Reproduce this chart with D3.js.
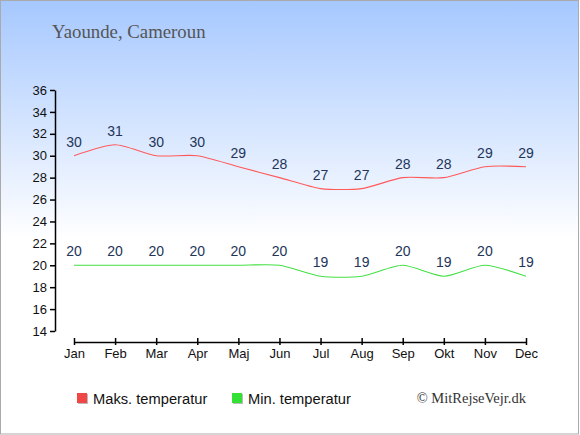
<!DOCTYPE html>
<html lang="en">
<head>
  <meta charset="utf-8">
  <title>Yaounde, Cameroun</title>
  <style>
    body { margin: 0; padding: 0; background: #fff; }
    svg text { font-family: "Liberation Sans", Arial, sans-serif; }
  </style>
</head>
<body>
<div id="chart"></div>
<script src="https://d3js.org/d3.v7.min.js"></script>
<script>
  var months = ["Jan", "Feb", "Mar", "Apr", "Maj", "Jun", "Jul", "Aug", "Sep", "Okt", "Nov", "Dec"];
  var maxTemp = [30, 31, 30, 30, 29, 28, 27, 27, 28, 28, 29, 29];
  var minTemp = [20, 20, 20, 20, 20, 20, 19, 19, 20, 19, 20, 19];
  var yTicks = [14, 16, 18, 20, 22, 24, 26, 28, 30, 32, 34, 36];
  var seriesNames = ["Maks. temperatur", "Min. temperatur"];

  var width = 580, height = 435;

  var svg = d3.select("#chart")
    .append("svg")
    .attr("width", width)
    .attr("height", height);

  var grad = svg.append("defs").append("linearGradient")
    .attr("id", "bg")
    .attr("x1", 0).attr("y1", 0).attr("x2", 0).attr("y2", 1);
  grad.append("stop").attr("offset", "0%").attr("stop-color", "#a6c8ff");
  grad.append("stop").attr("offset", "55%").attr("stop-color", "#ffffff");
  grad.append("stop").attr("offset", "100%").attr("stop-color", "#ffffff");

  svg.append("rect")
    .attr("x", 0.5).attr("y", 0.5)
    .attr("width", width - 2).attr("height", height - 1.5)
    .attr("fill", "url(#bg)")
    .attr("stroke", "#aaaaaa");

  svg.append("text")
    .attr("x", 52).attr("y", 38)
    .style("font-family", "'Liberation Serif', 'DejaVu Serif', serif")
    .style("font-size", "18.8px")
    .attr("fill", "#555555")
    .text("Yaounde, Cameroun");

  var x = d3.scalePoint()
    .domain(months)
    .range([74, 526]);

  var y = d3.scaleLinear()
    .domain([14, 36])
    .range([331, 90]);

  // y axis
  var yAxis = svg.append("g")
    .attr("transform", "translate(55,0)")
    .call(d3.axisLeft(y).tickValues(yTicks).tickSize(5).tickPadding(3).tickSizeOuter(0));
  yAxis.select(".domain").attr("stroke", "#000").attr("stroke-width", 1.5);
  yAxis.selectAll(".tick line").attr("stroke", "#000").attr("stroke-width", 1.5);
  yAxis.selectAll("text")
    .style("font-size", "13px")
    .attr("fill", "#111");

  // x axis
  var xAxis = svg.append("g")
    .attr("transform", "translate(0,342)")
    .call(d3.axisBottom(x).tickSize(0).tickPadding(7));
  xAxis.select(".domain").attr("stroke", "#000").attr("stroke-width", 1.5);
  xAxis.selectAll(".tick").append("line")
    .attr("y1", -4).attr("y2", 3)
    .attr("stroke", "#000").attr("stroke-width", 1.5);
  xAxis.selectAll("text")
    .style("font-size", "13px")
    .attr("fill", "#111");

  var line = d3.line()
    .x(function (d, i) { return x(months[i]); })
    .y(function (d) { return y(d); })
    .curve(d3.curveCardinal.tension(0.3));

  svg.append("path")
    .datum(maxTemp)
    .attr("d", line)
    .attr("fill", "none")
    .attr("stroke", "#ff5a5a")
    .attr("stroke-width", 1.1);

  svg.append("path")
    .datum(minTemp)
    .attr("d", line)
    .attr("fill", "none")
    .attr("stroke", "#44e044")
    .attr("stroke-width", 1.1);

  function labels(data) {
    svg.append("g").selectAll("text")
      .data(data)
      .enter()
      .append("text")
      .attr("x", function (d, i) { return x(months[i]); })
      .attr("y", function (d) { return y(d) - 9; })
      .attr("text-anchor", "middle")
      .style("font-size", "14px")
      .attr("fill", "#233559")
      .text(function (d) { return d; });
  }
  labels(maxTemp);
  labels(minTemp);

  // legend
  var legendColors = ["#f04646", "#33e033"];
  var legendX = [77, 232];
  var legend = svg.append("g").selectAll("g")
    .data(seriesNames)
    .enter()
    .append("g")
    .attr("transform", function (d, i) { return "translate(" + legendX[i] + ",393)"; });
  legend.append("rect")
    .attr("x", 1).attr("y", 1)
    .attr("width", 10).attr("height", 10)
    .attr("fill", "#bbbbbb");
  legend.append("rect")
    .attr("width", 10).attr("height", 10)
    .attr("fill", function (d, i) { return legendColors[i]; });
  legend.append("text")
    .attr("x", 16).attr("y", 10.5)
    .style("font-size", "14.7px")
    .attr("fill", "#111")
    .text(function (d) { return d; });

  svg.append("text")
    .attr("x", 526).attr("y", 403)
    .attr("text-anchor", "end")
    .style("font-family", "'Liberation Serif', 'DejaVu Serif', serif")
    .style("font-size", "14.5px")
    .attr("fill", "#333")
    .text("\u00a9 MitRejseVejr.dk");
</script>
</body>
</html>
